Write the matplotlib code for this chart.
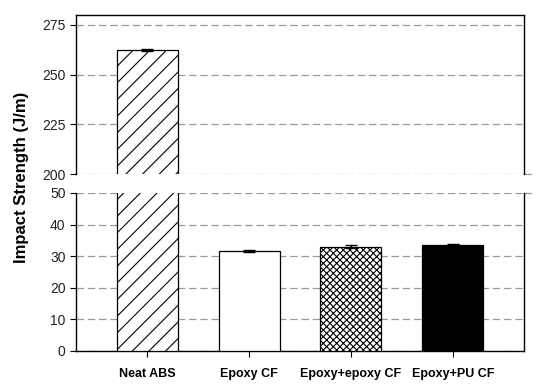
import matplotlib
matplotlib.use("Agg")
import matplotlib.pyplot as plt
import matplotlib.transforms as mtransforms
import numpy as np

categories = ["Neat ABS", "Epoxy CF", "Epoxy+epoxy CF", "Epoxy+PU CF"]
values = [262.5, 31.6, 33.0, 33.7]
errors = [0.6, 0.3, 0.4, 0.3]
top_ticks = [200, 225, 250, 275]
bottom_ticks = [0, 10, 20, 30, 40, 50]

faces = ["white", "white", "white", "black"]
hatches = ["//", None, "xxxxx", None]

plt.rcParams['font.family'] = ['Liberation Sans', 'DejaVu Sans']
plt.rcParams['hatch.linewidth'] = 0.8

fig = plt.figure(figsize=(5.5, 3.91), dpi=100)
L, R = 76 / 550, 524 / 550
ax_top = fig.add_axes([L, 1 - 174 / 391, R - L, (174 - 15) / 391])
ax_bot = fig.add_axes([L, 1 - 351 / 391, R - L, (351 - 193) / 391])

x = np.arange(len(categories))
grid_kw = dict(color="#999999", linestyle=(0, (6, 3)), linewidth=0.9)
for ax in (ax_top, ax_bot):
    for i in range(len(categories)):
        ax.bar(x[i], values[i], width=0.6, color=faces[i], edgecolor="black",
               hatch=hatches[i], linewidth=0.9, zorder=3)
    ax.errorbar(x, values, yerr=errors, fmt="none", ecolor="black",
                elinewidth=1, capsize=4, capthick=1, zorder=4)
    ax.set_xlim(-0.7, 3.7)
    ax.grid(axis="y", zorder=0, **grid_kw)
    ax.tick_params(axis="y", direction="out", length=4, labelsize=10, colors="black")
    ax.tick_params(axis="y", labelcolor="#222222")
    for s in ax.spines.values():
        s.set_linewidth(1.0)

ax_top.set_ylim(200, 280)
ax_top.set_yticks(top_ticks)
ax_top.spines["bottom"].set_visible(False)
ax_top.tick_params(axis="x", bottom=False, labelbottom=False)

ax_bot.set_ylim(0, 50)
ax_bot.set_yticks(bottom_ticks)
ax_bot.spines["top"].set_visible(False)
ax_bot.set_xticks(x)
ax_bot.set_xticklabels(categories, fontweight="bold", fontsize=9)
ax_bot.tick_params(axis="x", direction="out", length=4, pad=8)

# break-line stubs extending past the right spine
for ax, yv in ((ax_top, 200), (ax_bot, 50)):
    tr = mtransforms.blended_transform_factory(ax.transAxes, ax.transData)
    ax.plot([1.0, 1.02], [yv, yv], transform=tr, clip_on=False, **grid_kw)

fig.text(0.040, 0.547, "Impact Strength (J/m)", rotation=90, va="center", ha="center",
         fontweight="bold", fontsize=12)

fig.savefig("out.png", dpi=100)
